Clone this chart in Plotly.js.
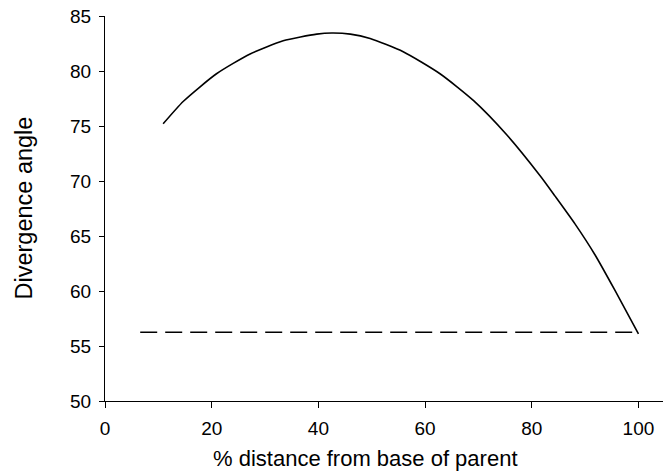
<!DOCTYPE html>
<html>
<head>
<meta charset="utf-8">
<script src="https://cdn.plot.ly/plotly-3.0.1.min.js"></script>
<style>html,body{margin:0;padding:0;background:#fff;}#chart{width:669px;height:471px;}</style>
</head>
<body>
<div id="chart"></div>
<script>
// Curve: divergence angle vs % distance from base of parent
const curveX = [10.9, 14.7, 20.9, 27.2, 33.4, 39.7, 42.5, 46.0, 49.7, 55.9, 62.8, 69.1, 75.3, 81.6, 84.4, 88.1, 91.9, 95.6, 100];
const curveY = [75.2, 77.25, 79.75, 81.55, 82.75, 83.35, 83.45, 83.35, 82.95, 81.75, 79.75, 77.3, 74.2, 70.45, 68.6, 66.1, 63.25, 60.05, 56.1];
// Reference (dashed) line
const refX = [6.6, 100];
const refY = [56.25, 56.25];
const xTicks = [0, 20, 40, 60, 80, 100];
const yTicks = [50, 55, 60, 65, 70, 75, 80, 85];
const xTitle = '% distance from base of parent';
const yTitle = 'Divergence angle';

const traces = [
  {x: curveX, y: curveY, mode: 'lines', line: {color: '#000', width: 1.6, shape: 'spline', smoothing: 0.6}, hoverinfo: 'skip'},
  {x: refX, y: refY, mode: 'lines', line: {color: '#000', width: 1.6, dash: '17px,8px'}, hoverinfo: 'skip'}
];
const fam = 'Liberation Sans, Arial, sans-serif';
const layout = {
  width: 669, height: 471,
  margin: {l: 105, r: 6, t: 16, b: 70},
  paper_bgcolor: '#fff', plot_bgcolor: '#fff',
  showlegend: false,
  font: {family: fam, color: '#000'},
  xaxis: {
    range: [0, 104.6], tickvals: xTicks, ticktext: xTicks.map(String),
    showgrid: false, zeroline: false, showline: true, linecolor: '#000', linewidth: 1,
    ticks: 'outside', ticklen: 6, tickcolor: '#000', tickwidth: 1, ticklabelstandoff: 4,
    tickfont: {family: fam, size: 19, color: '#000'}
  },
  yaxis: {
    range: [50, 85], tickvals: yTicks, ticktext: yTicks.map(String),
    showgrid: false, zeroline: false, showline: true, linecolor: '#000', linewidth: 1,
    ticks: 'outside', ticklen: 5, tickcolor: '#000', tickwidth: 1, ticklabelstandoff: 4,
    tickfont: {family: fam, size: 19, color: '#000'}
  },
  annotations: [
    {text: xTitle, xref: 'paper', yref: 'paper', x: 0.4677, y: 0, yshift: -57,
     xanchor: 'center', yanchor: 'middle', showarrow: false, font: {family: fam, size: 22, color: '#000'}},
    {text: yTitle, xref: 'paper', yref: 'paper', x: 0, xshift: -82, y: 0.5, textangle: -90,
     xanchor: 'center', yanchor: 'middle', showarrow: false, font: {family: fam, size: 23.5, color: '#000'}}
  ]
};
Plotly.newPlot('chart', traces, layout, {displayModeBar: false, staticPlot: true});
</script>
</body>
</html>
